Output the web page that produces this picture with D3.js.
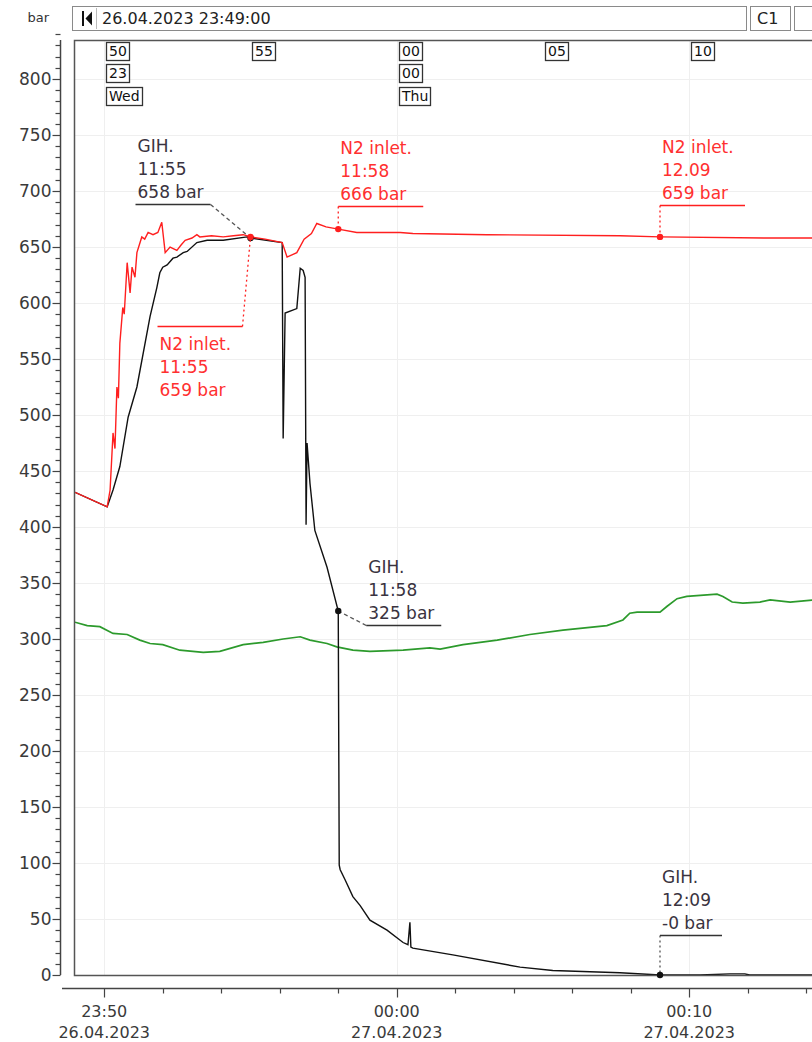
<!DOCTYPE html>
<html>
<head>
<meta charset="utf-8">
<script src="https://cdn.jsdelivr.net/npm/d3@7"></script>
<style>
  body { margin: 0; background: #fff; }
  svg { display: block; font-family: 'DejaVu Sans', sans-serif; }
</style>
</head>
<body>
<div id="chart"></div>
<script>
// Recorder trend: N2 inlet (red), GIH (black), third channel (green)

var startTime = '23:49:00';
var endTime = '00:14:20';
var headerText = '26.04.2023 23:49:00';
var yTicks = d3.range(0, 801, 50);
var xMajorTicks = ['23:50:00', '00:00:00', '00:10:00'];
var xDates = ['26.04.2023', '27.04.2023', '27.04.2023'];
var topTicks = ['23:50:00', '23:55:00', '00:00:00', '00:05:00', '00:10:00'];
var topMinutes = ['50', '55', '00', '05', '10'];
var topHours = {'23:50:00': '23', '00:00:00': '00'};
var topDays = {'23:50:00': 'Wed', '00:00:00': 'Thu'};

var n2Inlet = [
  ['23:49:00', 431], ['23:50:06', 418], ['23:50:12', 433], ['23:50:18', 484], ['23:50:22', 470],
  ['23:50:26', 525], ['23:50:29', 515], ['23:50:32', 564], ['23:50:38', 596], ['23:50:41', 590],
  ['23:50:47', 636], ['23:50:53', 609], ['23:50:57', 632], ['23:51:03', 623], ['23:51:07', 645],
  ['23:51:12', 652], ['23:51:17', 659], ['23:51:23', 657], ['23:51:30', 663], ['23:51:40', 661],
  ['23:51:50', 663], ['23:51:58', 672], ['23:52:05', 645], ['23:52:15', 650], ['23:52:29', 647],
  ['23:52:38', 652], ['23:52:46', 656], ['23:53:00', 658], ['23:53:10', 661], ['23:53:16', 659],
  ['23:53:40', 660], ['23:54:04', 659], ['23:54:25', 660], ['23:54:45', 661], ['23:55:00', 659],
  ['23:55:30', 657], ['23:56:05', 654], ['23:56:15', 641], ['23:56:25', 643], ['23:56:35', 645],
  ['23:56:50', 657], ['23:57:05', 662], ['23:57:16', 671], ['23:57:35', 668], ['23:58:00', 666],
  ['23:58:38', 663], ['00:00:07', 663], ['00:00:33', 662], ['00:03:05', 661], ['00:07:38', 660],
  ['00:09:00', 659], ['00:12:39', 658], ['00:14:20', 658]
];

var gih = [
  ['23:49:00', 431], ['23:50:06', 418], ['23:50:18', 433], ['23:50:32', 454], ['23:50:49', 498],
  ['23:51:07', 525], ['23:51:34', 588], ['23:51:48', 614], ['23:51:54', 627], ['23:52:00', 632],
  ['23:52:09', 634], ['23:52:21', 640], ['23:52:29', 641], ['23:52:42', 645], ['23:52:50', 646],
  ['23:53:10', 654], ['23:53:31', 656], ['23:54:04', 656], ['23:54:53', 659], ['23:55:00', 658],
  ['23:56:05', 654], ['23:56:07', 479], ['23:56:11', 591], ['23:56:35', 595], ['23:56:42', 631],
  ['23:56:48', 629], ['23:56:52', 623], ['23:56:54', 402], ['23:56:56', 475], ['23:57:02', 439],
  ['23:57:12', 397], ['23:57:37', 364], ['23:58:00', 325], ['23:58:02', 98], ['23:58:04', 94],
  ['23:58:14', 85], ['23:58:30', 70], ['23:58:45', 62], ['23:59:05', 49], ['23:59:40', 40],
  ['00:00:13', 29], ['00:00:23', 27], ['00:00:27', 47], ['00:00:29', 25], ['00:00:33', 24],
  ['00:01:55', 18], ['00:04:13', 7], ['00:05:20', 4], ['00:07:38', 2], ['00:09:00', 0],
  ['00:10:22', 0], ['00:11:23', 1], ['00:11:54', 1], ['00:12:04', 0], ['00:14:20', 0]
];

var channel3 = [
  ['23:49:00', 315], ['23:49:25', 312], ['23:49:51', 311], ['23:50:18', 305], ['23:50:47', 304],
  ['23:51:13', 299], ['23:51:34', 296], ['23:52:00', 295], ['23:52:35', 290], ['23:53:23', 288],
  ['23:53:57', 289], ['23:54:45', 295], ['23:55:26', 297], ['23:56:07', 300], ['23:56:42', 302],
  ['23:57:02', 299], ['23:57:37', 296], ['23:57:57', 293], ['23:58:30', 290], ['23:59:05', 289],
  ['00:00:13', 290], ['00:01:08', 292], ['00:01:29', 291], ['00:02:16', 295], ['00:03:26', 299],
  ['00:04:33', 304], ['00:05:41', 308], ['00:07:11', 312], ['00:07:44', 317], ['00:07:58', 323],
  ['00:08:13', 324], ['00:09:00', 324], ['00:09:14', 329], ['00:09:35', 336], ['00:09:55', 338],
  ['00:10:57', 340], ['00:11:09', 338], ['00:11:28', 333], ['00:11:50', 332], ['00:12:25', 333],
  ['00:12:46', 335], ['00:13:27', 333], ['00:14:20', 335]
];

var callouts = [
  {series: 'gih', time: '23:55:00', value: 658, lines: ['GIH.', '11:55', '658 bar']},
  {series: 'n2', time: '23:55:00', value: 659, lines: ['N2 inlet.', '11:55', '659 bar']},
  {series: 'n2', time: '23:58:00', value: 666, lines: ['N2 inlet.', '11:58', '666 bar']},
  {series: 'n2', time: '00:09:00', value: 659, lines: ['N2 inlet.', '12.09', '659 bar']},
  {series: 'gih', time: '23:58:00', value: 325, lines: ['GIH.', '11:58', '325 bar']},
  {series: 'gih', time: '00:09:00', value: 0, lines: ['GIH.', '12:09', '-0 bar']}
];

// callout layout: where the label bar sits relative to the marker
var calloutLayout = [
  {x1: -115, x2: -40, dy: -34, join: 'end', below: false, dash: '4,3'},
  {x1: -93, x2: -8, dy: 89, join: 'end', below: true, dash: '2,3'},
  {x1: 0, x2: 85, dy: -23, join: 'start', below: false, dash: '2,3'},
  {x1: 0, x2: 85, dy: -32, join: 'start', below: false, dash: '2,3'},
  {x1: 28, x2: 103, dy: 14, join: 'start', below: false, dash: '4,3'},
  {x1: 0, x2: 62, dy: -40, join: 'start', below: false, dash: '2,3'}
];

var colors = {n2: '#ff1f1f', gih: '#111111', ch3: '#2c9a2c'};
var textColors = {n2: '#ff3030', gih: '#3a3340'};

function toDate(t) {
  var p = t.split(':').map(Number);
  return new Date(2023, 3, p[0] >= 12 ? 26 : 27, p[0], p[1], p[2]);
}

var W = 812, H = 1042;
var plot = {left: 75, top: 40, bottom: 975};
var minutePx = 29.25;

var svg = d3.select('#chart').append('svg')
  .attr('width', W).attr('height', H);

var t0 = toDate(startTime), t1 = toDate(endTime);
var x = d3.scaleTime()
  .domain([t0, t1])
  .range([plot.left, plot.left + (t1 - t0) / 60000 * minutePx]);
var y = d3.scaleLinear().domain([0, 800]).range([plot.bottom, plot.bottom - 800 * 1.12]);

// header bar
svg.append('text').attr('x', 49).attr('y', 22).attr('text-anchor', 'end')
  .attr('font-size', 13).attr('fill', '#333').text('bar');
svg.append('rect').attr('x', 72.5).attr('y', 6.5).attr('width', 674).attr('height', 24)
  .attr('fill', '#fff').attr('stroke', '#8a8a8a');
svg.append('rect').attr('x', 82).attr('y', 11).attr('width', 2).attr('height', 15).attr('fill', '#111');
svg.append('path').attr('d', 'M85.5,18.5 L92,11.5 L92,25.5 Z').attr('fill', '#111');
svg.append('line').attr('x1', 96.5).attr('x2', 96.5).attr('y1', 8).attr('y2', 29).attr('stroke', '#bbb');
svg.append('text').attr('x', 102).attr('y', 24).attr('font-size', 16).attr('fill', '#222').text(headerText);
svg.append('rect').attr('x', 750.5).attr('y', 6.5).attr('width', 40).attr('height', 24)
  .attr('fill', '#fff').attr('stroke', '#8a8a8a');
svg.append('text').attr('x', 757).attr('y', 24).attr('font-size', 16).attr('fill', '#222').text('C1');
svg.append('rect').attr('x', 794.5).attr('y', 6.5).attr('width', 40).attr('height', 24)
  .attr('fill', '#fff').attr('stroke', '#8a8a8a');

// grid
var grid = svg.append('g');
grid.selectAll('line.h').data(yTicks.filter(function(d) { return d > 0; })).enter().append('line')
  .attr('x1', plot.left).attr('x2', W)
  .attr('y1', function(d) { return Math.round(y(d)) + 0.5; })
  .attr('y2', function(d) { return Math.round(y(d)) + 0.5; })
  .attr('stroke', '#efefef');
grid.selectAll('line.v').data(xMajorTicks).enter().append('line')
  .attr('x1', function(d) { return Math.round(x(toDate(d))) + 0.5; })
  .attr('x2', function(d) { return Math.round(x(toDate(d))) + 0.5; })
  .attr('y1', plot.top).attr('y2', plot.bottom)
  .attr('stroke', '#efefef');

// y axis with minor ticks
var yAxis = svg.append('g').attr('transform', 'translate(60.5,0)');
yAxis.append('line').attr('x1', 0).attr('x2', 0).attr('y1', plot.top).attr('y2', plot.bottom)
  .attr('stroke', '#444').attr('stroke-width', 1.5);
yAxis.selectAll('line.minor').data(d3.range(0, 841, 10)).enter().append('line')
  .attr('x1', function(d) { return d % 50 === 0 ? -8 : -5; }).attr('x2', 0)
  .attr('y1', function(d) { return Math.round(y(d)) + 0.5; })
  .attr('y2', function(d) { return Math.round(y(d)) + 0.5; })
  .attr('stroke', '#444').attr('stroke-width', 1.2);
yAxis.selectAll('text').data(yTicks).enter().append('text')
  .attr('x', -9).attr('y', function(d) { return y(d) + 6; })
  .attr('text-anchor', 'end').attr('font-size', 17).attr('fill', '#3a3a3a')
  .text(function(d) { return d; });

// x axis below the plot
var axisY = 988.5;
var xAxis = svg.append('g');
xAxis.append('line').attr('x1', 62).attr('x2', W).attr('y1', axisY).attr('y2', axisY)
  .attr('stroke', '#444').attr('stroke-width', 1.5);
xAxis.selectAll('line.t').data(x.ticks(d3.timeMinute.every(2))).enter().append('line')
  .attr('x1', function(d) { return Math.round(x(d)) + 0.5; })
  .attr('x2', function(d) { return Math.round(x(d)) + 0.5; })
  .attr('y1', axisY).attr('y2', function(d) { return axisY + (d.getMinutes() % 10 === 0 ? 9 : 5); })
  .attr('stroke', '#444').attr('stroke-width', 1.2);
var fmt = d3.timeFormat('%H:%M');
xAxis.selectAll('text.time').data(xMajorTicks).enter().append('text')
  .attr('x', function(d) { return x(toDate(d)); }).attr('y', 1017)
  .attr('text-anchor', 'middle').attr('font-size', 16).attr('fill', '#3a3a3a')
  .text(function(d) { return fmt(toDate(d)); });
xAxis.selectAll('text.date').data(xMajorTicks).enter().append('text')
  .attr('x', function(d) { return x(toDate(d)); }).attr('y', 1038)
  .attr('text-anchor', 'middle').attr('font-size', 16).attr('fill', '#3a3a3a')
  .text(function(d, i) { return xDates[i]; });

// clip for the traces
svg.append('clipPath').attr('id', 'clip').append('rect')
  .attr('x', plot.left).attr('y', plot.top).attr('width', W - plot.left).attr('height', plot.bottom - plot.top);

var line = d3.line()
  .x(function(d) { return x(toDate(d[0])); })
  .y(function(d) { return y(d[1]); });

var traces = svg.append('g').attr('clip-path', 'url(#clip)');
traces.append('path').datum(channel3).attr('d', line)
  .attr('fill', 'none').attr('stroke', colors.ch3).attr('stroke-width', 1.7);
traces.append('path').datum(gih).attr('d', line)
  .attr('fill', 'none').attr('stroke', colors.gih).attr('stroke-width', 1.4);
traces.append('path').datum(n2Inlet).attr('d', line)
  .attr('fill', 'none').attr('stroke', colors.n2).attr('stroke-width', 1.4);

// plot frame
svg.append('path')
  .attr('d', 'M' + W + ',' + (plot.top + 0.5) + 'H' + (plot.left - 0.5) + 'V' + (plot.bottom + 0.5) + 'H' + W)
  .attr('fill', 'none').attr('stroke', '#555').attr('stroke-width', 1.5);

// time boxes along the top of the plot
var topG = svg.append('g').attr('font-size', 14).attr('fill', '#111');
function timeBox(px, py, label) {
  var t = topG.append('text').attr('x', px + 3).attr('y', py + 14).text(label);
  var w = t.node().getComputedTextLength();
  topG.insert('rect', 'text').attr('x', px + 0.5).attr('y', py + 0.5)
    .attr('width', Math.round(w) + 5).attr('height', 18)
    .attr('fill', '#fff').attr('stroke', '#333').attr('stroke-width', 1.3);
}
topTicks.forEach(function(d) {
  var px = Math.round(x(toDate(d))) + 2;
  timeBox(px, 42, topMinutes[topTicks.indexOf(d)]);
  if (topHours[d]) timeBox(px, 64, topHours[d]);
  if (topDays[d]) timeBox(px, 87, topDays[d]);
});

// callouts
var cg = svg.append('g');
callouts.forEach(function(c, i) {
  var L = calloutLayout[i];
  var mx = x(toDate(c.time)), my = y(c.value);
  var col = colors[c.series], tcol = textColors[c.series];
  var by = Math.round(my + L.dy) + 0.5;
  var jx = L.join === 'end' ? mx + L.x2 : mx + L.x1;
  cg.append('line').attr('x1', jx).attr('y1', by).attr('x2', mx).attr('y2', my)
    .attr('stroke', c.series === 'gih' ? '#555' : col).attr('stroke-width', 1.3)
    .attr('stroke-dasharray', L.dash);
  cg.append('line').attr('x1', mx + L.x1).attr('x2', mx + L.x2).attr('y1', by).attr('y2', by)
    .attr('stroke', c.series === 'gih' ? '#333' : col).attr('stroke-width', 1.3);
  cg.append('circle').attr('cx', mx).attr('cy', my).attr('r', 3.2).attr('fill', col);
  c.lines.forEach(function(s, k) {
    var ty = L.below ? by + 23 + k * 23 : by - 7 - (c.lines.length - 1 - k) * 23;
    cg.append('text').attr('x', mx + L.x1 + 2).attr('y', ty)
      .attr('font-size', 17).attr('fill', tcol).text(s);
  });
});
</script>
</body>
</html>
